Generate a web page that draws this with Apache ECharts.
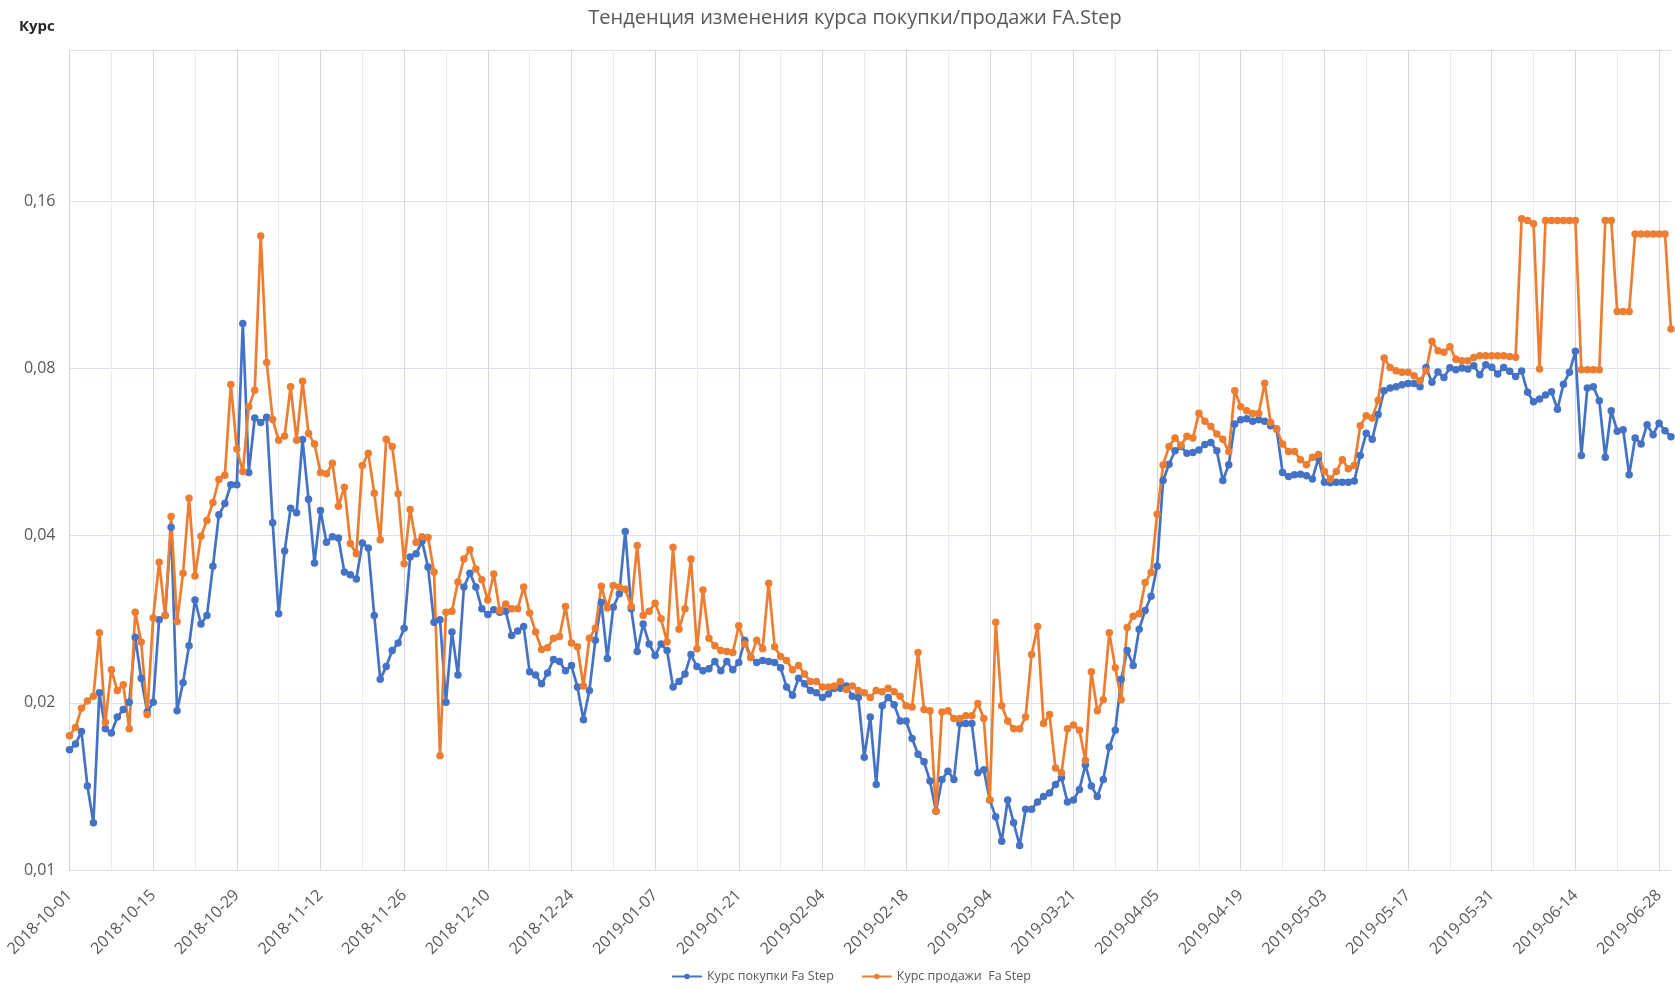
<!DOCTYPE html>
<html>
<head>
<meta charset="utf-8">
<title>FA.Step</title>
<script src="https://cdn.jsdelivr.net/npm/echarts@6/dist/echarts.min.js"></script>
<style>
  html, body { margin: 0; padding: 0; background: #fff; }
  #chart { width: 1675px; height: 988px; }
</style>
</head>
<body>
<div id="chart"></div>
<script>
// даты: каждый день с 2018-10-01 по 2019-06-30, без пропущенных дней
const startDate = '2018-10-01';
const endDate = '2019-06-30';
const skippedDates = ['2019-03-08', '2019-03-09', '2019-03-10', '2019-03-31'];

// шкала Y (логарифмическая, основание 2)
const yTicks = [0.01, 0.02, 0.04, 0.08, 0.16];

// Курс покупки Fa Step
const buyRate = [
  0.0165, 0.0169, 0.0178, 0.0142, 0.0122, 0.0209, 0.0180, 0.0177, 0.0189, 0.0195,
  0.0201, 0.0263, 0.0222, 0.0193, 0.0201, 0.0283, 0.0288, 0.0415, 0.0194, 0.0218,
  0.0254, 0.0307, 0.0278, 0.0288, 0.0353, 0.0437, 0.0458, 0.0495, 0.0495, 0.0966,
  0.0521, 0.0653, 0.0641, 0.0655, 0.0423, 0.0290, 0.0376, 0.0449, 0.0441, 0.0597,
  0.0466, 0.0358, 0.0445, 0.0390, 0.0399, 0.0397, 0.0345, 0.0341, 0.0335, 0.0389,
  0.0381, 0.0288, 0.0221, 0.0233, 0.0249, 0.0257, 0.0273, 0.0367, 0.0372, 0.0392,
  0.0352, 0.0280, 0.0283, 0.0201, 0.0269, 0.0225, 0.0324, 0.0343, 0.0324, 0.0296,
  0.0289, 0.0295, 0.0292, 0.0293, 0.0265, 0.0270, 0.0275, 0.0228, 0.0225, 0.0217,
  0.0227, 0.0240, 0.0238, 0.0229, 0.0234, 0.0214, 0.0187, 0.0211, 0.0260, 0.0304,
  0.0241, 0.0298, 0.0315, 0.0408, 0.0296, 0.0248, 0.0278, 0.0256, 0.0244, 0.0256,
  0.0249, 0.0214, 0.0219, 0.0226, 0.0245, 0.0233, 0.0229, 0.0231, 0.0238, 0.0229,
  0.0238, 0.0230, 0.0237, 0.0260, 0.0242, 0.0237, 0.0239, 0.0238, 0.0237, 0.0232,
  0.0214, 0.0207, 0.0222, 0.0217, 0.0211, 0.0209, 0.0205, 0.0208, 0.0213, 0.0213,
  0.0215, 0.0206, 0.0205, 0.0160, 0.0189, 0.0143, 0.0198, 0.0205, 0.0199, 0.0186,
  0.0186, 0.0173, 0.0162, 0.0157, 0.0145, 0.0128, 0.0146, 0.0151, 0.0146, 0.0184,
  0.0184, 0.0184, 0.0150, 0.0152, 0.0134, 0.0125, 0.0113, 0.0134, 0.0122, 0.0111,
  0.0129, 0.0129, 0.0133, 0.0136, 0.0138, 0.0143, 0.0147, 0.0133, 0.0134, 0.0140,
  0.0155, 0.0142, 0.0136, 0.0146, 0.0167, 0.0179, 0.0221, 0.0249, 0.0234, 0.0272,
  0.0294, 0.0312, 0.0353, 0.0504, 0.0539, 0.0570, 0.0580, 0.0564, 0.0566, 0.0572,
  0.0585, 0.0590, 0.0570, 0.0504, 0.0538, 0.0637, 0.0648, 0.0651, 0.0644, 0.0648,
  0.0644, 0.0632, 0.0624, 0.0521, 0.0512, 0.0516, 0.0517, 0.0514, 0.0507, 0.0553,
  0.0500, 0.0499, 0.0500, 0.0500, 0.0500, 0.0503, 0.0559, 0.0613, 0.0598, 0.0662,
  0.0731, 0.0739, 0.0743, 0.0749, 0.0753, 0.0753, 0.0743, 0.0805, 0.0757, 0.0790,
  0.0772, 0.0804, 0.0797, 0.0803, 0.0800, 0.0811, 0.0781, 0.0814, 0.0806, 0.0783,
  0.0805, 0.0792, 0.0775, 0.0793, 0.0726, 0.0698, 0.0706, 0.0718, 0.0728, 0.0677,
  0.0751, 0.0789, 0.0861, 0.0559, 0.0739, 0.0743, 0.0701, 0.0555, 0.0673, 0.0618,
  0.0622, 0.0516, 0.0601, 0.0586, 0.0635, 0.0609, 0.0639, 0.0619, 0.0604
];

// Курс продажи Fa Step
const sellRate = [
  0.0175, 0.0181, 0.0196, 0.0202, 0.0206, 0.0268, 0.0185, 0.0230, 0.0211, 0.0216,
  0.0180, 0.0292, 0.0258, 0.0191, 0.0285, 0.0359, 0.0288, 0.0434, 0.0281, 0.0343,
  0.0468, 0.0339, 0.0400, 0.0427, 0.0460, 0.0506, 0.0515, 0.0750, 0.0574, 0.0523,
  0.0684, 0.0732, 0.1388, 0.0822, 0.0649, 0.0595, 0.0606, 0.0743, 0.0595, 0.0760,
  0.0612, 0.0586, 0.0521, 0.0518, 0.0541, 0.0453, 0.0490, 0.0388, 0.0372, 0.0536,
  0.0564, 0.0478, 0.0394, 0.0598, 0.0580, 0.0477, 0.0357, 0.0447, 0.0390, 0.0399,
  0.0398, 0.0345, 0.0161, 0.0292, 0.0293, 0.0331, 0.0364, 0.0378, 0.0349, 0.0334,
  0.0307, 0.0342, 0.0294, 0.0302, 0.0296, 0.0296, 0.0324, 0.0291, 0.0269, 0.0250,
  0.0252, 0.0262, 0.0264, 0.0299, 0.0257, 0.0253, 0.0215, 0.0262, 0.0273, 0.0325,
  0.0297, 0.0326, 0.0324, 0.0321, 0.0299, 0.0385, 0.0288, 0.0293, 0.0303, 0.0284,
  0.0258, 0.0382, 0.0272, 0.0296, 0.0364, 0.0251, 0.0320, 0.0262, 0.0254, 0.0249,
  0.0248, 0.0247, 0.0276, 0.0256, 0.0242, 0.0260, 0.0251, 0.0329, 0.0253, 0.0243,
  0.0239, 0.0230, 0.0234, 0.0226, 0.0219, 0.0219, 0.0214, 0.0214, 0.0215, 0.0219,
  0.0212, 0.0215, 0.0211, 0.0209, 0.0205, 0.0211, 0.0210, 0.0213, 0.0210, 0.0206,
  0.0198, 0.0197, 0.0247, 0.0195, 0.0194, 0.0128, 0.0193, 0.0194, 0.0188, 0.0188,
  0.0190, 0.0190, 0.0200, 0.0188, 0.0134, 0.0280, 0.0198, 0.0186, 0.0180, 0.0180,
  0.0189, 0.0245, 0.0275, 0.0184, 0.0191, 0.0153, 0.0150, 0.0180, 0.0183, 0.0179,
  0.0158, 0.0228, 0.0194, 0.0203, 0.0268, 0.0232, 0.0203, 0.0274, 0.0287, 0.0290,
  0.0330, 0.0344, 0.0438, 0.0537, 0.0580, 0.0601, 0.0583, 0.0605, 0.0601, 0.0666,
  0.0644, 0.0630, 0.0611, 0.0598, 0.0568, 0.0731, 0.0684, 0.0673, 0.0665, 0.0665,
  0.0754, 0.0641, 0.0624, 0.0586, 0.0568, 0.0568, 0.0549, 0.0538, 0.0555, 0.0561,
  0.0523, 0.0507, 0.0523, 0.0549, 0.0529, 0.0536, 0.0632, 0.0659, 0.0653, 0.0703,
  0.0837, 0.0805, 0.0794, 0.0789, 0.0789, 0.0778, 0.0762, 0.0793, 0.0897, 0.0863,
  0.0857, 0.0877, 0.0833, 0.0828, 0.0828, 0.0839, 0.0845, 0.0845, 0.0845, 0.0845,
  0.0845, 0.0842, 0.0840, 0.1490, 0.1480, 0.1460, 0.0800, 0.1480, 0.1480, 0.1480,
  0.1480, 0.1480, 0.1480, 0.0797, 0.0797, 0.0797, 0.0797, 0.1480, 0.1480, 0.1015,
  0.1015, 0.1015, 0.1400, 0.1400, 0.1400, 0.1400, 0.1400, 0.1400, 0.0944
];

const buyName = 'Курс покупки Fa Step';
const sellName = 'Курс продажи  Fa Step';

const buildDates = () => {
  const out = [];
  const d = new Date(startDate + 'T00:00:00Z');
  const end = new Date(endDate + 'T00:00:00Z');
  while (d <= end) {
    const s = d.toISOString().slice(0, 10);
    if (skippedDates.indexOf(s) < 0) out.push(s);
    d.setUTCDate(d.getUTCDate() + 1);
  }
  return out;
};
const dates = buildDates();

const font = '"Open Sans", "Noto Sans", sans-serif';
const gray = '#595959';

const chart = echarts.init(document.getElementById('chart'));
chart.setOption({
  animation: false,
  textStyle: { fontFamily: font },
  title: [
    {
      text: 'Тенденция изменения курса покупки/продажи FA.Step',
      left: 855,
      top: 8,
      textAlign: 'center',
      padding: 0,
      textStyle: { fontFamily: font, fontSize: 20, fontWeight: 'normal', color: gray }
    },
    {
      text: 'Курс',
      left: 19,
      top: 19,
      padding: 0,
      textStyle: { fontFamily: font, fontSize: 15, fontWeight: 'bold', color: '#262626' }
    }
  ],
  legend: {
    bottom: 0,
    left: 666,
    itemWidth: 30,
    itemHeight: 7,
    itemGap: 27,
    textStyle: { fontFamily: font, fontSize: 12.5, color: gray },
    data: [buyName, sellName]
  },
  grid: { left: 69.5, right: 4, top: 50, bottom: 117.3 },
  xAxis: [
    {
      type: 'category',
      data: dates,
      boundaryGap: false,
      axisLine: { show: false },
      axisTick: { show: false },
      axisLabel: {
        interval: 13,
        rotate: 45,
        margin: 22,
        fontFamily: font,
        fontSize: 16,
        color: gray
      },
      splitLine: { show: true, interval: 6, lineStyle: { color: '#ebebeb', width: 1 } }
    },
    {
      type: 'category',
      data: dates,
      boundaryGap: false,
      position: 'bottom',
      axisLine: { show: false },
      axisTick: { show: false },
      axisLabel: { show: false },
      splitLine: { show: true, interval: 13, lineStyle: { color: '#d6d6d6', width: 1 } }
    }
  ],
  yAxis: {
    type: 'log',
    logBase: 2,
    min: 0.01,
    max: 0.3,
    interval: 1,
    axisLine: { show: false },
    axisTick: { show: false },
    axisLabel: {
      margin: 14,
      fontFamily: font,
      fontSize: 16,
      color: gray,
      formatter: (v) => {
        const t = yTicks.find((x) => Math.abs(x - v) / x < 0.01);
        return t ? t.toFixed(2).replace('.', ',') : '';
      }
    },
    splitLine: { show: true, lineStyle: { color: '#dae0ec', width: 1.2 } }
  },
  series: [
    {
      name: buyName,
      type: 'line',
      data: buyRate,
      symbol: 'circle',
      symbolSize: 7.5,
      showAllSymbol: true,
      itemStyle: { color: '#4472C4' },
      lineStyle: { color: '#4472C4', width: 2.7 }
    },
    {
      name: sellName,
      type: 'line',
      data: sellRate,
      symbol: 'circle',
      symbolSize: 7.5,
      showAllSymbol: true,
      itemStyle: { color: '#ED7D31' },
      lineStyle: { color: '#ED7D31', width: 2.7 }
    }
  ]
});
</script>
</body>
</html>
